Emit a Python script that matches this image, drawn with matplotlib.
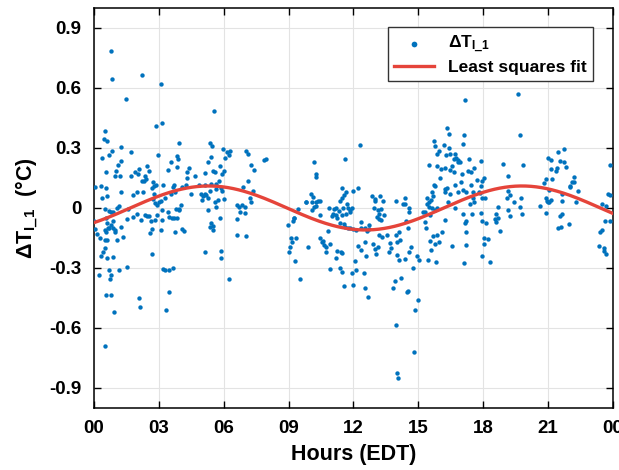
import numpy as np
import matplotlib
matplotlib.use("Agg")
import matplotlib.pyplot as plt

hours = [
    0.77, 0.83, 2.2, 3.08, 1.46, 0.5, 0.46, 0.62, 2.88, 3.14, 3.91, 1.23, 0.37, 0.68, 0.83, 1.69,
    2.94, 3.54, 3.85, 3.88, 3.83, 1.11, 1.23, 1.02, 0.99, 1.2, 0.56, 2.46, 2.53, 1.69, 1.88, 2.03,
    2.06, 2.37, 2.31, 2.22, 2.4, 3.42, 4.37, 4.31, 4.65, 4.28, 0.06, 0.31, 0.53, 2.71, 2.77, 2.86,
    3.17, 2.68, 3.63, 3.69, 4.06, 3.57, 3.29, 3.76, 4.25, 4.49, 1.82, 1.97, 2.28, 1.26, 0.59, 0.37,
    2.77, 2.71, 2.8, 2.99, 3.11, 2.93, 3.14, 4.0, 3.79, 3.91, 3.94, 3.42, 1.14, 1.08, 0.5, 0.68,
    0.77, 0.86, 1.57, 1.79, 1.97, 2.19, 2.37, 2.43, 2.56, 2.62, 2.8, 2.93, 3.14, 3.6, 3.48, 3.72,
    3.85, 1.51, 0.0, 0.56, 0.62, 0.77, 0.86, 0.03, 0.15, 0.28, 0.5, 0.56, 0.65, 0.71, 0.89, 0.99,
    0.96, 1.08, 1.32, 1.26, 0.5, 0.59, 2.68, 2.59, 3.08, 3.76, 4.09, 4.15, 0.5, 0.43, 0.34, 0.62,
    0.86, 2.68, 1.54, 3.17, 3.26, 3.45, 3.63, 0.22, 0.68, 0.8, 0.74, 1.17, 0.53, 0.8, 2.06, 3.48,
    0.49, 0.91, 2.14, 3.34,
    5.54, 5.35, 5.46, 5.97, 6.13, 6.22, 6.31, 6.06, 5.39, 5.26, 7.05, 7.14, 7.26, 7.42, 7.88, 7.97,
    5.82, 5.51, 5.6, 5.11, 6.0, 5.91, 4.86, 5.14, 5.42, 5.63, 5.76, 5.85, 5.94, 5.66, 5.36, 4.93,
    5.05, 5.11, 5.26, 4.99, 5.17, 5.73, 5.6, 6.0, 5.66, 6.89, 7.11, 7.36, 7.2, 7.26, 6.62, 6.71,
    6.83, 6.96, 6.77, 6.99, 6.59, 7.05, 6.59, 5.26, 5.42, 5.48, 5.36, 5.51, 5.82, 5.14, 5.85, 5.85,
    6.22, 8.99, 9.23, 9.2, 9.26, 9.42, 9.11, 9.17, 9.33, 9.05, 9.02, 9.3, 9.51,
    10.19, 10.25, 10.25, 11.63, 12.31, 9.82, 9.79, 10.03, 10.13, 10.06, 10.25, 10.37, 10.46, 10.16,
    10.09, 10.28, 10.46, 10.86, 11.11, 11.17, 11.05, 11.17, 10.99, 11.48, 11.39, 11.45, 11.54, 11.66,
    12.0, 12.22, 11.72, 11.33, 11.51, 11.76, 11.85, 11.91, 11.66, 11.82, 11.48, 11.26, 11.36, 11.57,
    11.63, 11.76, 11.85, 11.97, 12.13, 12.37, 12.34, 12.53, 12.71, 12.62, 12.74, 12.86, 13.02, 12.99,
    13.23, 13.36, 12.96, 13.14, 13.29, 13.2, 13.42, 13.08, 13.17, 13.26, 13.97, 14.28, 13.17, 13.32,
    13.54, 13.97, 14.09, 14.0, 14.16, 13.69, 13.76, 13.66, 14.03, 14.09, 14.4, 12.9, 12.99, 13.14,
    13.05, 12.53, 12.22, 12.37, 12.59, 12.5, 12.13, 12.06, 11.91, 12.0, 12.53, 12.68, 10.43, 10.53,
    10.62, 10.59, 10.74, 10.93, 10.71, 10.83, 9.91, 11.17, 11.26, 11.42, 11.45, 10.93, 11.39, 11.48,
    11.54, 13.91, 14.22, 13.85, 13.97, 14.8, 14.0, 14.08, 14.52, 14.49, 14.98, 14.84, 14.74, 15.05,
    15.45, 15.81,
    17.17, 19.6, 19.69, 16.34, 16.4, 17.11, 17.08, 15.73, 15.79, 16.19, 16.43, 15.94, 15.88, 16.28,
    16.46, 16.68, 16.74, 16.65, 16.83, 17.33, 17.91, 18.93, 15.51, 15.85, 16.06, 16.22, 16.56, 16.49,
    16.65, 16.83, 16.93, 17.02, 17.3, 17.45, 17.57, 16.0, 16.71, 16.99, 17.42, 17.7, 17.94, 18.03,
    19.14, 15.73, 15.79, 16.22, 16.34, 16.25, 16.49, 16.86, 17.08, 17.23, 17.51, 17.88, 17.85, 17.94,
    18.1, 17.79, 15.63, 15.66, 15.39, 15.57, 15.48, 15.42, 15.3, 15.23, 15.51, 15.63, 15.79, 15.85,
    16.37, 16.68, 17.39, 17.57, 17.51, 17.05, 17.48, 17.91, 18.71, 18.59, 14.37, 14.56, 14.4, 14.59,
    14.43, 14.53, 15.33, 15.54, 15.36, 16.25, 17.23, 17.17, 17.97, 18.13, 18.53, 18.59, 18.71, 18.77,
    16.09, 15.85, 15.69, 15.79, 15.97, 15.54, 15.57, 16.56, 17.2, 17.2, 18.06, 18.22, 18.06, 17.94,
    18.31, 17.11, 14.68, 14.59, 14.96,
    21.73, 21.48, 21.02, 21.57, 21.76, 21.82, 21.42, 21.36, 21.14, 21.17, 20.93, 20.83, 19.85, 23.85,
    22.03, 22.13, 22.19, 22.0, 22.37, 21.66, 21.63, 22.28, 21.05, 19.17, 19.23, 19.42, 19.73, 19.11,
    19.69, 19.79, 19.26, 20.9, 21.0, 21.05, 21.14, 20.96, 20.62, 20.9, 21.54, 21.63, 21.48, 21.6,
    21.97, 23.79, 23.88, 23.7, 23.51, 23.66, 23.85, 23.51, 23.42, 23.36, 23.6, 23.57, 23.7, 19.17,
    22.22, 21.14,
]
delta_t = [
    0.785, 0.645, 0.665, 0.622, 0.545, 0.385, 0.343, 0.337, 0.41, 0.423, 0.323, 0.307, 0.248, 0.265, 0.285, 0.282,
    0.265, 0.228, 0.26, 0.247, 0.207, 0.215, 0.235, 0.185, 0.16, 0.162, 0.178, 0.208, 0.185, 0.162, 0.178, 0.168,
    0.195, 0.16, 0.135, 0.135, 0.143, 0.19, 0.2, 0.182, 0.16, 0.148, 0.107, 0.112, 0.098, 0.128, 0.112, 0.115,
    0.115, 0.102, 0.107, 0.115, 0.105, 0.068, 0.048, 0.078, 0.115, 0.068, 0.065, 0.082, 0.078, 0.082, 0.06, 0.048,
    0.068, 0.045, 0.023, 0.028, 0.035, 0.015, -0.01, 0.015, -0.005, -0.01, -0.005, -0.018, 0.012, 0.002, -0.005, -0.015,
    -0.022, -0.018, -0.005, -0.043, -0.03, -0.06, -0.035, -0.038, -0.038, -0.065, -0.06, -0.035, -0.06, -0.052, -0.043, -0.048,
    -0.048, -0.057, -0.065, -0.052, -0.077, -0.085, -0.065, -0.105, -0.132, -0.148, -0.11, -0.122, -0.102, -0.098, -0.102, -0.112,
    -0.118, -0.16, -0.143, -0.095, -0.16, -0.16, -0.105, -0.127, -0.108, -0.118, -0.105, -0.115, -0.198, -0.218, -0.24, -0.248,
    -0.245, -0.232, -0.295, -0.305, -0.308, -0.312, -0.302, -0.335, -0.312, -0.335, -0.355, -0.312, -0.435, -0.435, -0.448, -0.418,
    -0.688, -0.518, -0.493, -0.512,
    0.485, 0.323, 0.31, 0.295, 0.282, 0.265, 0.285, 0.248, 0.253, 0.232, 0.285, 0.268, 0.215, 0.188, 0.238, 0.245,
    0.208, 0.185, 0.178, 0.175, 0.185, 0.168, 0.115, 0.115, 0.118, 0.118, 0.135, 0.098, 0.085, 0.095, 0.085, 0.068,
    0.062, 0.072, 0.048, 0.038, 0.065, 0.042, 0.028, 0.045, 0.007, 0.105, 0.135, 0.085, 0.048, 0.028, 0.015, 0.005,
    0.015, 0.005, -0.018, -0.023, -0.055, -0.142, -0.135, -0.01, -0.077, -0.088, -0.095, -0.108, -0.048, -0.218, -0.215, -0.252,
    -0.357, -0.085, -0.052, -0.065, -0.048, -0.007, -0.148, -0.168, -0.148, -0.195, -0.222, -0.265, -0.357,
    0.232, 0.172, 0.155, 0.245, 0.313, 0.032, 0.028, 0.068, 0.055, 0.032, 0.032, 0.035, 0.035, 0.005,
    -0.008, 0.008, -0.035, 0.0, -0.005, 0.0, -0.028, -0.035, -0.038, 0.102, 0.035, 0.052, 0.065, 0.082,
    0.085, 0.098, 0.022, -0.015, -0.002, -0.002, -0.022, 0.002, -0.028, -0.008, -0.035, -0.052, -0.077, -0.082,
    -0.093, -0.098, -0.102, -0.105, -0.112, -0.068, -0.098, -0.098, -0.085, -0.115, -0.105, 0.062, 0.045, 0.035,
    0.062, 0.035, 0.0, -0.008, -0.005, -0.032, -0.035, -0.045, -0.055, -0.062, 0.035, 0.018, -0.135, -0.143,
    -0.135, -0.135, -0.122, -0.168, -0.162, -0.177, -0.198, -0.218, -0.235, -0.258, -0.255, -0.178, -0.205, -0.193,
    -0.232, -0.168, -0.188, -0.212, -0.242, -0.325, -0.312, -0.265, -0.327, -0.385, -0.398, -0.443, -0.148, -0.168,
    -0.185, -0.165, -0.218, -0.182, -0.195, -0.115, -0.193, -0.252, -0.215, -0.222, -0.225, -0.305, -0.298, -0.318,
    -0.392, -0.365, -0.352, -0.402, -0.583, -0.72, -0.823, -0.848, -0.415, -0.42, -0.458, -0.508, -0.298, -0.26,
    -0.262, -0.268,
    0.542, 0.572, 0.367, 0.402, 0.368, 0.365, 0.322, 0.335, 0.312, 0.315, 0.298, 0.285, 0.268, 0.265,
    0.272, 0.272, 0.248, 0.245, 0.242, 0.245, 0.235, 0.218, 0.215, 0.208, 0.195, 0.202, 0.212, 0.188,
    0.178, 0.228, 0.232, 0.172, 0.185, 0.178, 0.202, 0.152, 0.115, 0.128, 0.115, 0.142, 0.135, 0.148,
    0.158, 0.115, 0.108, 0.095, 0.098, 0.078, 0.068, 0.078, 0.088, 0.082, 0.082, 0.108, 0.075, 0.052,
    0.052, 0.082, 0.078, 0.062, 0.048, 0.038, 0.032, 0.022, -0.018, -0.022, 0.005, -0.002, -0.01, 0.002,
    0.028, 0.002, 0.018, 0.032, 0.048, -0.028, -0.028, -0.025, 0.005, -0.028, 0.048, -0.002, 0.018, -0.018,
    -0.065, -0.098, -0.072, -0.035, -0.102, -0.062, -0.065, -0.075, -0.065, -0.077, -0.055, -0.068, -0.052, -0.115,
    -0.118, -0.135, -0.138, -0.178, -0.172, -0.165, -0.212, -0.188, -0.118, -0.185, -0.152, -0.155, -0.182, -0.242,
    -0.268, -0.273, -0.193, -0.222, -0.238,
    0.295, 0.278, 0.252, 0.235, 0.228, 0.205, 0.202, 0.185, 0.195, 0.145, 0.145, 0.125, 0.215, 0.215,
    0.112, 0.128, 0.132, 0.105, 0.085, 0.068, 0.035, 0.032, 0.088, 0.085, 0.065, 0.032, 0.052, 0.048,
    0.005, -0.032, -0.042, 0.048, 0.032, 0.028, 0.042, 0.035, 0.008, -0.027, -0.038, -0.032, -0.098, -0.093,
    -0.082, 0.068, 0.065, 0.012, 0.022, -0.065, -0.065, -0.11, -0.118, -0.188, -0.198, -0.215, -0.228, -0.01,
    0.157, 0.24,
]

# Least squares sinusoid fit parameters (amplitude in deg C, period and peak time in hours)
fit_amplitude = 0.11
fit_period = 14.5
fit_peak_hour = 5.3

x_ticks = [0, 3, 6, 9, 12, 15, 18, 21, 24]
x_tick_labels = ['00', '03', '06', '09', '12', '15', '18', '21', '00']
y_ticks = [-0.9, -0.6, -0.3, 0, 0.3, 0.6, 0.9]
y_tick_labels = ['-0.9', '-0.6', '-0.3', '0', '0.3', '0.6', '0.9']

plt.rcParams['font.family'] = ['Liberation Sans', 'DejaVu Sans']
plt.rcParams['font.weight'] = 'bold'
plt.rcParams['mathtext.fontset'] = 'custom'
plt.rcParams['mathtext.rm'] = 'Liberation Sans:bold'
plt.rcParams['mathtext.bf'] = 'Liberation Sans:bold'
plt.rcParams['mathtext.it'] = 'Liberation Sans:bold'

fig = plt.figure(figsize=(6.19, 4.70), dpi=100)
ax = fig.add_axes([0.152, 0.132, 0.838, 0.851])

ax.scatter(hours, delta_t, s=10, color='#0072BD', linewidths=0, zorder=3,
           label='ΔT$_{\\mathrm{I\\_1}}$')

t_fit = np.linspace(0, 24, 400)
fit = fit_amplitude * np.cos(2 * np.pi * (t_fit - fit_peak_hour) / fit_period)
ax.plot(t_fit, fit, color='#E5443A', linewidth=2.4, zorder=4, label='Least squares fit')

ax.set_xlim(0, 24)
ax.set_ylim(-1, 1)
ax.set_xticks(x_ticks)
ax.set_xticklabels(x_tick_labels)
ax.set_yticks(y_ticks)
ax.set_yticklabels(y_tick_labels)
ax.tick_params(direction='in', length=5, width=1, top=True, right=True,
               labelsize=13.5, pad=9)
ax.grid(True, color='#e3e3e3', linewidth=0.8)
ax.set_axisbelow(True)
for sp in ax.spines.values():
    sp.set_linewidth(1.1)

ax.set_xlabel('Hours (EDT)', fontsize=15.5, fontweight='bold', labelpad=5)
ax.set_ylabel('ΔT$_{\\mathrm{I\\_1}}$  (°C)', fontsize=15.5, fontweight='bold', labelpad=6)

leg = ax.legend(loc='upper right', bbox_to_anchor=(0.962, 0.952), borderaxespad=0,
                fontsize=12.5, frameon=True, fancybox=False, edgecolor='#333333',
                framealpha=1, markerscale=1.3, handlelength=2.3, borderpad=0.35,
                labelspacing=0.3)
leg.get_frame().set_linewidth(1.0)

plt.savefig('out.png', dpi=100)
